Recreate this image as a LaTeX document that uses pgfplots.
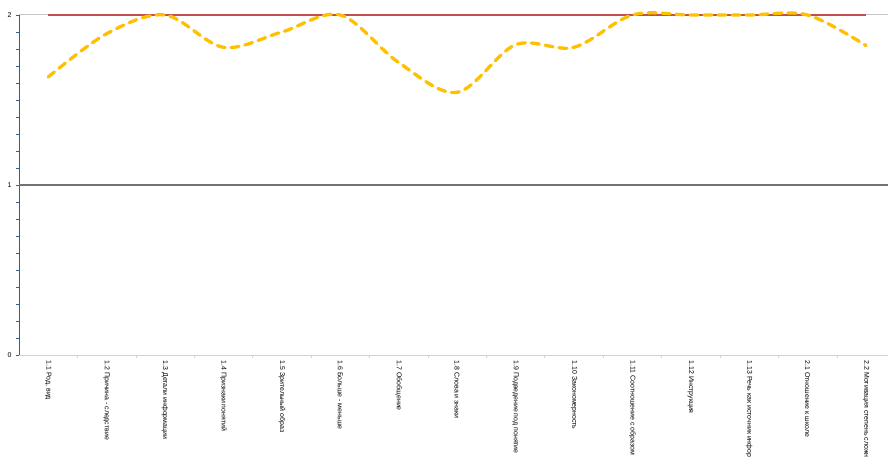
\documentclass[border=0pt]{standalone}
\usepackage{pgfplots}
\pgfplotsset{compat=1.18}
\usepackage{fontspec}
\setmainfont{Liberation Sans}
\definecolor{gold}{HTML}{FFC000}
\definecolor{redline}{HTML}{C0504D}
\definecolor{axblue}{HTML}{3A5A8C}
\begin{document}
\begin{tikzpicture}
\useasboundingbox (0,0) rectangle (888bp,462bp);
\begin{axis}[
  at={(19bp,107bp)}, anchor=south west,
  scale only axis, width=869bp, height=340bp,
  xmin=-0.5, xmax=14.376, ymin=0, ymax=2,
  clip=false,
  axis lines*=left,
  x axis line style={draw=gray!35, line width=0.8bp},
  y axis line style={draw=axblue, line width=0.9bp},
  xtick={0,...,14},
  xticklabels={{1.1 Род, вид},1.2 Причина - следствие,1.3 Детали информации,1.4 Признаки понятий,1.5 Зрительный образ,1.6 Больше - меньше,1.7 Обобщение,1.8 Слова и знаки,1.9 Подведение под понятие,1.10 Закономерность,1.11 Соотношение с образом,1.12 Инструкция,1.13 Речь как источник инфор,2.1 Отношение к школе,2.2 Мотивация степень сложн},
  x tick label style={font=\fontsize{7}{8}\selectfont, rotate=-90, anchor=west, inner sep=0pt, xshift=2.5bp},
  major x tick style={draw=none},
  minor xtick={0.5,1.5,...,13.5},
  minor x tick style={draw=gray!35, line width=0.6bp},
  ytick={0,1,2},
  minor ytick={0.1,0.2,...,1.95},
  y tick label style={font=\fontsize{7}{8}\selectfont},
  yticklabel style={xshift=-1bp},
  y tick style={draw=axblue, line width=0.6bp},
  tick align=outside,
  major tick length=3bp, minor tick length=3bp,
  xtick pos=bottom, ytick pos=left,
  /pgf/number format/assume math mode=true,
]
\draw[gray!45, line width=1bp] (axis cs:-0.5,2) -- (axis cs:14.376,2);
\draw[black!55, line width=1.2bp] (axis cs:-0.5,1) -- (axis cs:14.376,1);
\addplot[redline, line width=1.3bp] coordinates {(0,2) (1,2) (2,2) (3,2) (4,2) (5,2) (6,2) (7,2) (8,2) (9,2) (10,2) (11,2) (12,2) (13,2) (14,2)};
\addplot[gold, line width=3.3bp, smooth, tension=0.55, dash pattern=on 8bp off 6bp, line cap=round] coordinates {
(0,1.635) (1,1.89) (2,2.0) (3,1.81) (4,1.9) (5,2.0) (6,1.72) (7,1.545) (8,1.825) (9,1.81) (10,2.0) (11,2.0) (12,2.0) (13,2.0) (14,1.82)};
\end{axis}
\end{tikzpicture}
\end{document}
